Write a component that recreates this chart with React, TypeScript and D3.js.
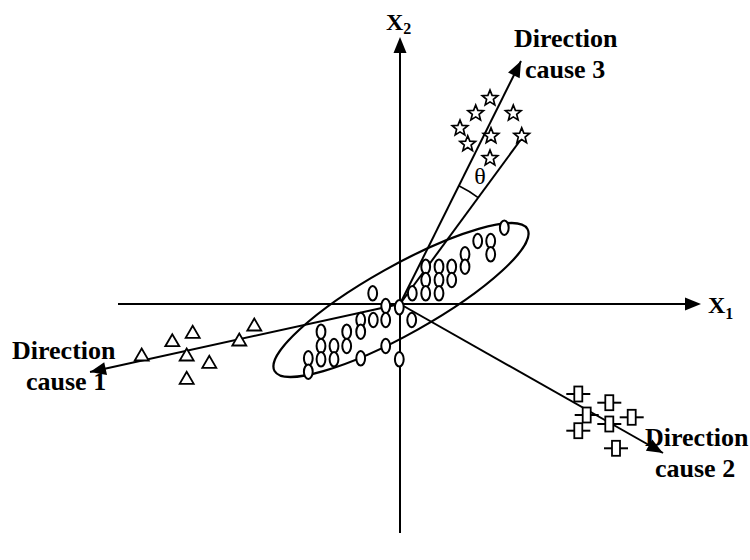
import React from "react";
import * as d3 from "d3";

// ---- data (in diagram units; origin at the axes crossing) ----
const ellipseX = [10.43, 7.77, 9.07, 9.07, 6.5, 6.5, 5.17, 5.17, 3.9, 3.9, 3.9, 2.57, 2.57, 2.57, 1.23, -2.73, -1.43, -0.07, 1.17, -1.43, -2.67, -3.93, -3.93, -5.33, -5.33, -6.6, -6.6, -7.9, -7.9, -7.9, -9.17, -9.17, -3.93, -1.43, -0.07];
const ellipseY = [7.63, 6.3, 6.3, 4.97, 4.97, 3.73, 3.73, 2.4, 3.73, 2.4, 1.07, 3.73, 2.4, 1.07, 1.07, 1.07, -0.2, -0.33, -1.6, -1.6, -1.6, -1.6, -2.77, -2.77, -4.2, -4.2, -5.53, -2.77, -4.2, -5.53, -5.43, -6.77, -5.43, -4.2, -5.53];

const triangleX = [-14.57, -20.73, -22.77, -16.07, -25.83, -21.33, -19.07, -21.33];
const triangleY = [-2.1, -2.83, -3.67, -3.6, -5.1, -5.1, -5.83, -7.43];

const starX = [9.0, 7.57, 11.33, 6.0, 9.1, 12.17, 6.77, 9.0];
const starY = [20.57, 19.07, 19.07, 17.57, 16.8, 16.8, 16.0, 14.57];

const squareX = [17.83, 20.93, 18.67, 23.17, 20.93, 17.83, 21.6];
const squareY = [-9.0, -9.87, -11.1, -11.33, -12.0, -12.67, -14.43];

const directionNames = ["cause 1", "cause 2", "cause 3"];
const directionTipX = [-31.0, 26.3, 12.1];
const directionTipY = [-6.8, -14.9, 24.3];

const thetaLineEnd = [12.2, 16.6];
const axisX1Range = [-28.2, 30.1];
const axisX2Range = [-22.9, 26.7];
const axisLabels = ["X", "X"];
const axisSubs = ["1", "2"];

// big confidence ellipse (center, semi-axes, angle in degrees)
const bigEllipse = { cx: 0.1, cy: 0.4, a: 14.5, b: 3.4, angle: 29.3 };
const thetaRadius = 13.2;

const W = 750;
const H = 560;
const x = d3.scaleLinear().domain([-40, 35]).range([0, W]);
const y = d3.scaleLinear().domain([-25.6, 30.4]).range([H, 0]);
const unit = x(1) - x(0);

const FONT = "'Liberation Serif', 'Times New Roman', serif";

function arrowHead(x0: number, y0: number, x1: number, y1: number, len = 15, half = 6) {
  const dx = x1 - x0;
  const dy = y1 - y0;
  const d = Math.hypot(dx, dy);
  const ux = dx / d;
  const uy = dy / d;
  const bx = x1 - ux * len;
  const by = y1 - uy * len;
  return `${x1},${y1} ${bx - uy * half},${by + ux * half} ${bx + uy * half},${by - ux * half}`;
}

function starPath(r1: number, r2: number) {
  const pts: [number, number][] = [];
  for (let i = 0; i < 10; i++) {
    const r = i % 2 === 0 ? r1 : r2;
    const a = -Math.PI / 2 + (i * Math.PI) / 5;
    pts.push([r * Math.cos(a), r * Math.sin(a)]);
  }
  return d3.line()(pts) + "Z";
}

export default function App() {
  const ox = x(0);
  const oy = y(0);
  const star = starPath(8.2, 3.6);

  // theta arc between the cause-3 line and the theta line
  const a3 = Math.atan2(directionTipY[2], directionTipX[2]);
  const aT = Math.atan2(thetaLineEnd[1], thetaLineEnd[0]);
  const arc = d3
    .arc()
    .innerRadius(thetaRadius * unit)
    .outerRadius(thetaRadius * unit)
    .startAngle(Math.PI / 2 - a3)
    .endAngle(Math.PI / 2 - aT);

  return (
    <svg
      width={W}
      height={H}
      style={{ position: "absolute", left: 0, top: 0, background: "#fff" }}
    >
      <rect x={0} y={0} width={W} height={H} fill="#fff" />
      {/* axes */}
      <line x1={x(axisX1Range[0])} y1={oy} x2={x(axisX1Range[1]) - 12} y2={oy} stroke="#000" strokeWidth={2} />
      <polygon points={arrowHead(x(axisX1Range[0]), oy, x(axisX1Range[1]), oy, 16, 6.5)} fill="#000" />
      <line x1={ox} y1={y(axisX2Range[0])} x2={ox} y2={y(axisX2Range[1]) + 12} stroke="#000" strokeWidth={2} />
      <polygon points={arrowHead(ox, y(axisX2Range[0]), ox, y(axisX2Range[1]), 16, 6.5)} fill="#000" />

      {/* axis labels */}
      <text x={x(axisX1Range[1]) + 7} y={oy + 9} fontFamily={FONT} fontWeight="bold" fontSize={24}>
        {axisLabels[0]}
        <tspan fontSize={16} dy={6}>{axisSubs[0]}</tspan>
      </text>
      <text x={ox - 14} y={y(axisX2Range[1]) - 7} fontFamily={FONT} fontWeight="bold" fontSize={24}>
        {axisLabels[1]}
        <tspan fontSize={16} dy={4}>{axisSubs[1]}</tspan>
      </text>

      {/* big ellipse */}
      <ellipse
        cx={x(bigEllipse.cx)}
        cy={y(bigEllipse.cy)}
        rx={bigEllipse.a * unit}
        ry={bigEllipse.b * unit}
        transform={`rotate(${-bigEllipse.angle}, ${x(bigEllipse.cx)}, ${y(bigEllipse.cy)})`}
        fill="none"
        stroke="#000"
        strokeWidth={2.2}
      />

      {/* direction lines */}
      {directionNames.map((n, i) => {
        const tx = x(directionTipX[i]);
        const ty = y(directionTipY[i]);
        return (
          <g key={n}>
            <line x1={ox} y1={oy} x2={tx} y2={ty} stroke="#000" strokeWidth={2} />
            <polygon points={arrowHead(ox, oy, tx, ty, 16, 6.5)} fill="#000" />
          </g>
        );
      })}
      <line x1={ox} y1={oy} x2={x(thetaLineEnd[0])} y2={y(thetaLineEnd[1])} stroke="#000" strokeWidth={2} />
      <path d={arc({} as any) || ""} transform={`translate(${ox},${oy})`} fill="none" stroke="#000" strokeWidth={1.6} />
      <text x={x(8.0)} y={y(12.0)} fontFamily={FONT} fontSize={24} textAnchor="middle">
        θ
      </text>

      {/* ellipse markers */}
      {ellipseX.map((v, i) => (
        <ellipse key={"e" + i} cx={x(v)} cy={y(ellipseY[i])} rx={4.4} ry={7.2} fill="#fff" stroke="#000" strokeWidth={2} />
      ))}

      {/* triangles */}
      {triangleX.map((v, i) => {
        const cx = x(v);
        const cy = y(triangleY[i]);
        return (
          <polygon
            key={"t" + i}
            points={`${cx},${cy - 6.5} ${cx - 7},${cy + 5.5} ${cx + 7},${cy + 5.5}`}
            fill="#fff"
            stroke="#000"
            strokeWidth={1.8}
          />
        );
      })}

      {/* stars */}
      {starX.map((v, i) => (
        <path key={"s" + i} d={star} transform={`translate(${x(v)},${y(starY[i])})`} fill="#fff" stroke="#000" strokeWidth={1.7} strokeLinejoin="miter" />
      ))}

      {/* bar-squares */}
      {squareX.map((v, i) => {
        const cx = x(v);
        const cy = y(squareY[i]);
        return (
          <g key={"q" + i}>
            <line x1={cx - 12} y1={cy} x2={cx + 12} y2={cy} stroke="#000" strokeWidth={2} />
            <rect x={cx - 4} y={cy - 7.5} width={8} height={15} fill="#fff" stroke="#000" strokeWidth={1.8} />
          </g>
        );
      })}

      {/* direction labels */}
      <g fontFamily={FONT} fontWeight="bold" fontSize={26}>
        <text x={12} y={359}>Direction</text>
        <text x={26} y={390}>{directionNames[0]}</text>
        <text x={645} y={446}>Direction</text>
        <text x={655} y={477}>{directionNames[1]}</text>
        <text x={514} y={47}>Direction</text>
        <text x={525} y={78}>{directionNames[2]}</text>
      </g>
    </svg>
  );
}
